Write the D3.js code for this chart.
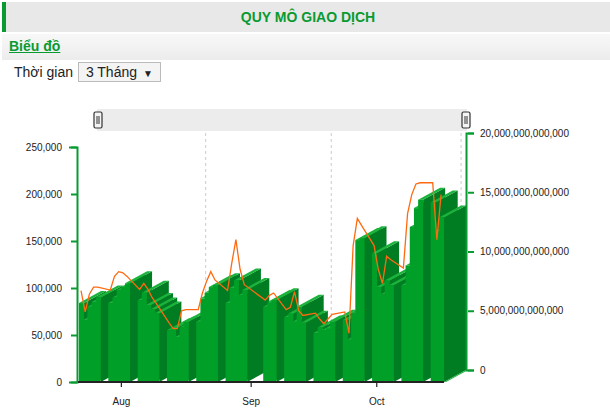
<!DOCTYPE html>
<html>
<head>
<meta charset="utf-8">
<script src="https://cdn.jsdelivr.net/npm/d3@7"></script>
<style>
body { margin: 0; font-family: Arial, "Liberation Sans", sans-serif; background: #fff; }
#head { position: absolute; left: 2px; top: 2px; width: 608px; height: 30px; background: #e8e8e8; border-left: 4px solid #0a9a32; box-sizing: border-box; text-align: center; line-height: 30px; color: #0a9a32; font-weight: bold; font-size: 14px; }
#sub { position: absolute; left: 2px; top: 34px; width: 608px; height: 26px; background: linear-gradient(#f8f8f8, #ececec); }
#sub a { position: absolute; left: 7px; top: 4px; color: #0a9a32; font-weight: bold; font-size: 14px; text-decoration: underline; }
#ctl { position: absolute; left: 14px; top: 62px; font-size: 14px; color: #222; }
#ctl span.sel { display: inline-block; margin-left: 1px; border: 1px solid #bbb; background: #f4f4f4; padding: 1px 7px 1px 7px; }
#ctl span.sel small { font-size: 10px; margin-left: 6px; }
svg { position: absolute; left: 0; top: 0; }
</style>
</head>
<body>
<div id="head">QUY MÔ GIAO DỊCH</div>
<div id="sub"><a>Biểu đồ</a></div>
<div id="ctl">Thời gian <span class="sel">3 Tháng<small>▼</small></span></div>
<svg id="svg"></svg>
<script>
var colorFront = '#00a028';
var colorTop = '#1cb33c';
var colorSide = '#007c22';
var colorLine = '#ff6a10';

var holidays = ['2024-09-02', '2024-09-03'];
// khoi luong (nghin)
var volumes = [84, 66, 80, 85, 90, 84, 90, 98, 101, 105, 87, 95, 82, 77, 73, 55, 57, 48, 58, 64,
    64, 89, 95, 101, 103, 84, 100, 108, 92, 98, 80, 85, 87, 69, 73, 64, 80, 63, 52, 58,
    55, 57, 64, 66, 45, 73, 151, 153, 137, 101, 93, 108, 103, 103, 124, 165, 185, 194, 191, 160,
    175];
// gia tri (nghin ty)
var values = [6.7, 4.9, 6.4, 7.0, 7.0, 6.75, 7.9, 8.3, 8.2, 7.9, 6.8, 7.3, 6.8, 6.1, 5.6, 4.0,
    3.5, 3.5, 5.0, 5.1, 5.1, 6.5, 7.5, 8.3, 7.6, 6.7, 9.0, 11.0, 8.5, 7.2, 5.9, 6.3,
    6.5, 5.1, 5.3, 6.6, 5.0, 4.6, 4.8, 4.3, 3.9, 4.3, 4.7, 4.9, 3.1, 10.5, 12.8, 12.2,
    10.5, 8.5, 7.3, 9.6, 9.3, 8.6, 13.2, 14.8, 15.7, 15.8, 15.8, 11.0, 14.8];
var leftTicks = [0, 50000, 100000, 150000, 200000, 250000];
var rightTicks = [0, 5e12, 10e12, 15e12, 20e12];

// trading days
var dates = [];
for (var d = new Date(2024, 6, 22); d <= new Date(2024, 9, 16); d.setDate(d.getDate() + 1)) {
    var iso = d3.timeFormat('%Y-%m-%d')(d);
    if (d.getDay() > 0 && d.getDay() < 6 && holidays.indexOf(iso) < 0) dates.push(new Date(d));
}
var n = Math.min(dates.length, volumes.length, values.length);
var data = [];
for (var i = 0; i < n; i++) data.push({date: dates[i], vol: volumes[i] * 1000, val: values[i] * 1e12});

var svg = d3.select('#svg').attr('width', 610).attr('height', 416);
var dx = 22, dy = -12, bw = 5;
var x = d3.scaleTime().domain([new Date(2024, 6, 22), new Date(2024, 9, 21)]).range([79, 460]);
var yL = d3.scaleLinear().domain([0, 250000]).range([382, 147]);
var yR = d3.scaleLinear().domain([0, 20e12]).range([370, 133]);

// navigator
svg.append('rect').attr('x', 97).attr('y', 109).attr('width', 370).attr('height', 22).attr('fill', '#ececec');
[98, 466].forEach(function(hx) {
    svg.append('rect').attr('x', hx - 4).attr('y', 112).attr('width', 8).attr('height', 16).attr('rx', 1.5)
        .attr('fill', '#f4f4f4').attr('stroke', '#333').attr('stroke-width', 1.2);
    svg.append('line').attr('x1', hx - 1).attr('x2', hx - 1).attr('y1', 116).attr('y2', 124).attr('stroke', '#333');
    svg.append('line').attr('x1', hx + 1).attr('x2', hx + 1).attr('y1', 116).attr('y2', 124).attr('stroke', '#333');
});

// dashed grid
[new Date(2024, 7, 16), new Date(2024, 8, 15), new Date(2024, 9, 16)].forEach(function(g) {
    svg.append('line').attr('x1', x(g) + dx).attr('x2', x(g) + dx).attr('y1', 133).attr('y2', 370)
        .attr('stroke', '#ccc').attr('stroke-dasharray', '3,3');
});

// bars
var bars = svg.append('g').selectAll('g').data(data).enter().append('g');
bars.append('path').attr('fill', colorSide).attr('d', function(p) {
    var x0 = x(p.date) + bw, y0 = yL(p.vol), yb = yL(0);
    return 'M' + x0 + ',' + y0 + 'L' + (x0 + dx) + ',' + (y0 + dy) + 'L' + (x0 + dx) + ',' + (yb + dy) + 'L' + x0 + ',' + yb + 'Z';
});
bars.append('path').attr('fill', colorTop).attr('d', function(p) {
    var x0 = x(p.date), y0 = yL(p.vol);
    return 'M' + x0 + ',' + y0 + 'L' + (x0 + dx) + ',' + (y0 + dy) + 'L' + (x0 + dx + bw) + ',' + (y0 + dy) + 'L' + (x0 + bw) + ',' + y0 + 'Z';
});
bars.append('rect').attr('fill', colorFront)
    .attr('x', function(p) { return x(p.date); }).attr('width', bw)
    .attr('y', function(p) { return yL(p.vol); })
    .attr('height', function(p) { return yL(0) - yL(p.vol); });

// floor edge
var xe = x(dates[n - 1]) + bw;
svg.append('path').attr('fill', colorTop)
    .attr('d', 'M' + xe + ',382L' + (xe + dx) + ',' + (382 + dy) + 'L' + (xe + dx + 2) + ',' + (382 + dy) + 'L' + (xe + 2) + ',382Z');

// value line
svg.append('path').datum(data).attr('fill', 'none').attr('stroke', colorLine).attr('stroke-width', 1.3)
    .attr('d', d3.line().x(function(p) { return x(p.date) + 2; }).y(function(p) { return yR(p.val); }));

// axes
var gl = svg.append('g').attr('transform', 'translate(77,0)')
    .call(d3.axisLeft(yL).tickValues(leftTicks).tickFormat(d3.format(',.0f')).tickSize(8));
var gr = svg.append('g').attr('transform', 'translate(466,0)')
    .call(d3.axisRight(yR).tickValues(rightTicks).tickFormat(d3.format(',.0f')).tickSize(8));
[gl, gr].forEach(function(g) {
    g.select('.domain').attr('stroke', '#0a9a32').attr('stroke-width', 2);
    g.selectAll('.tick line').attr('stroke', '#0a9a32').attr('stroke-width', 2).attr('x1', g === gl ? 0 : 2).attr('x2', g === gl ? -6 : 8);
    g.selectAll('text').attr('font-size', 10).attr('fill', '#222').attr('font-family', 'Arial, Liberation Sans');
});
gl.selectAll('text').attr('x', -15);
gr.selectAll('text').attr('x', 14);

var gx = svg.append('g').attr('transform', 'translate(0,382)')
    .call(d3.axisBottom(x).ticks(d3.timeMonth.every(1)).tickFormat(d3.timeFormat('%b')).tickSize(5));
gx.select('.domain').attr('stroke', '#222').attr('stroke-width', 2).attr('d', 'M78,0H' + xe);
gx.selectAll('.tick line').attr('stroke', '#222').attr('stroke-width', 1.2);
gx.selectAll('text').attr('font-size', 10).attr('fill', '#222').attr('y', 16);
</script>
</body>
</html>
